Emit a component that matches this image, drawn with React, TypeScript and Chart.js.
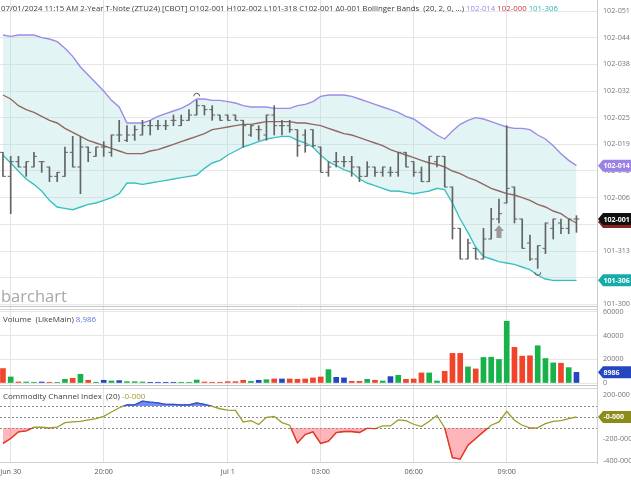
import React, { useEffect, useRef } from "react";
import { Chart, registerables } from "chart.js";

Chart.register(...registerables);

const FONT = '"Open Sans", "Noto Sans", sans-serif';

// ---- data (15-minute bars, 2-Year T-Note ZTU24) ----
const openP = [102.054, 102.036, 102.047, 102.043, 102.043, 102.047, 102.043, 102.036, 102.036, 102.054,
  102.043, 102.058, 102.051, 102.058, 102.054, 102.067, 102.063, 102.067, 102.067, 102.074,
  102.074, 102.074, 102.078, 102.074, 102.078, 102.082, 102.089, 102.086, 102.082, 102.082,
  102.082, 102.078, 102.067, 102.071, 102.067, 102.082, 102.074, 102.074, 102.071, 102.067,
  102.071, 102.058, 102.039, 102.047, 102.047, 102.047, 102.043, 102.036, 102.043, 102.039,
  102.039, 102.039, 102.054, 102.047, 102.039, 102.032, 102.047, 102.051, 102.028, 101.997,
  101.974, 101.982, 101.974, 101.989, 102.004, 102.016, 102.028, 102.004, 101.986, 101.974,
  101.982, 101.997, 102.001, 101.997, 102.004];
const highP = [102.054, 102.051, 102.051, 102.047, 102.054, 102.047, 102.043, 102.039, 102.058, 102.066,
  102.066, 102.058, 102.058, 102.062, 102.067, 102.078, 102.074, 102.074, 102.078, 102.078,
  102.078, 102.078, 102.082, 102.082, 102.086, 102.093, 102.089, 102.089, 102.082, 102.082,
  102.082, 102.078, 102.074, 102.074, 102.082, 102.089, 102.078, 102.078, 102.071, 102.071,
  102.071, 102.058, 102.047, 102.054, 102.051, 102.051, 102.043, 102.047, 102.043, 102.043,
  102.043, 102.054, 102.054, 102.047, 102.043, 102.051, 102.051, 102.051, 102.028, 101.997,
  101.989, 101.982, 101.997, 102.012, 102.019, 102.074, 102.028, 102.004, 101.992, 101.984,
  102.001, 102.004, 102.004, 102.004, 102.0065];
const lowP = [102.036, 102.008, 102.043, 102.036, 102.043, 102.039, 102.032, 102.032, 102.036, 102.043,
  102.023, 102.047, 102.051, 102.051, 102.051, 102.062, 102.062, 102.063, 102.067, 102.067,
  102.071, 102.071, 102.074, 102.074, 102.078, 102.082, 102.082, 102.078, 102.078, 102.078,
  102.078, 102.058, 102.066, 102.063, 102.063, 102.067, 102.067, 102.069, 102.051, 102.054,
  102.058, 102.039, 102.036, 102.043, 102.043, 102.036, 102.032, 102.036, 102.036, 102.036,
  102.036, 102.036, 102.043, 102.036, 102.032, 102.032, 102.043, 102.028, 101.989, 101.974,
  101.974, 101.974, 101.974, 101.989, 102.001, 102.016, 102.001, 101.982, 101.973, 101.967,
  101.978, 101.989, 101.993, 101.993, 101.994];
const closeP = [102.036, 102.047, 102.043, 102.047, 102.051, 102.047, 102.036, 102.039, 102.054, 102.043,
  102.058, 102.054, 102.058, 102.058, 102.067, 102.067, 102.067, 102.071, 102.074, 102.074,
  102.074, 102.074, 102.078, 102.078, 102.082, 102.089, 102.086, 102.082, 102.078, 102.078,
  102.078, 102.074, 102.074, 102.071, 102.082, 102.074, 102.074, 102.071, 102.059, 102.059,
  102.059, 102.039, 102.043, 102.047, 102.047, 102.043, 102.036, 102.043, 102.039, 102.043,
  102.039, 102.054, 102.043, 102.039, 102.032, 102.051, 102.051, 102.028, 101.997, 101.974,
  101.986, 101.974, 101.989, 102.004, 102.008, 102.027, 102.004, 101.982, 101.974, 101.984,
  102.001, 102.004, 101.997, 102.004, 102.004];

const bbUpper = [102.142, 102.141, 102.142, 102.142, 102.142, 102.140, 102.139, 102.137, 102.132, 102.126,
  102.118, 102.112, 102.106, 102.100, 102.093, 102.088, 102.076, 102.076, 102.076, 102.078,
  102.081, 102.083, 102.085, 102.087, 102.090, 102.094, 102.094, 102.093, 102.093, 102.092,
  102.091, 102.089, 102.088, 102.088, 102.088, 102.087, 102.087, 102.087, 102.089, 102.090,
  102.092, 102.096, 102.097, 102.097, 102.097, 102.096, 102.094, 102.092, 102.090, 102.088,
  102.086, 102.084, 102.081, 102.079, 102.075, 102.071, 102.067, 102.064, 102.070, 102.075,
  102.078, 102.080, 102.079, 102.077, 102.075, 102.073, 102.072, 102.072, 102.071, 102.067,
  102.064, 102.059, 102.053, 102.048, 102.044];
const bbMiddle = [102.097, 102.094, 102.089, 102.086, 102.084, 102.081, 102.078, 102.076, 102.072, 102.069,
  102.066, 102.063, 102.061, 102.059, 102.057, 102.055, 102.053, 102.053, 102.053, 102.055,
  102.056, 102.058, 102.060, 102.062, 102.064, 102.066, 102.068, 102.071, 102.072, 102.073,
  102.074, 102.075, 102.075, 102.076, 102.077, 102.077, 102.077, 102.077, 102.076, 102.076,
  102.075, 102.074, 102.072, 102.070, 102.068, 102.067, 102.065, 102.063, 102.061, 102.059,
  102.056, 102.054, 102.052, 102.050, 102.048, 102.046, 102.045, 102.043, 102.040, 102.038,
  102.035, 102.033, 102.030, 102.027, 102.025, 102.023, 102.022, 102.020, 102.018, 102.015,
  102.013, 102.010, 102.008, 102.004, 102.001];
const bbLower = [102.052, 102.046, 102.040, 102.034, 102.030, 102.025, 102.018, 102.013, 102.012, 102.011,
  102.013, 102.015, 102.016, 102.018, 102.020, 102.023, 102.031, 102.031, 102.030, 102.031,
  102.032, 102.033, 102.034, 102.035, 102.036, 102.037, 102.042, 102.046, 102.048, 102.052,
  102.055, 102.058, 102.060, 102.062, 102.064, 102.065, 102.066, 102.066, 102.063, 102.061,
  102.058, 102.052, 102.047, 102.044, 102.041, 102.039, 102.034, 102.031, 102.029, 102.027,
  102.025, 102.025, 102.024, 102.023, 102.024, 102.025, 102.027, 102.026, 102.016, 102.004,
  101.994, 101.983, 101.976, 101.974, 101.972, 101.971, 101.970, 101.968, 101.966, 101.962,
  101.959, 101.958, 101.958, 101.958, 101.958];

const volume = [12200, 5100, 850, 850, 600, 850, 600, 300, 3100, 4000,
  7400, 2300, 600, 2300, 1700, 2000, 1100, 1100, 850, 600,
  600, 600, 600, 600, 600, 2500, 850, 600, 600, 1100,
  1100, 2300, 1400, 2300, 2800, 3400, 3400, 3400, 3100, 3400,
  4300, 5100, 11300, 4800, 4300, 1400, 1400, 3100, 2300, 1700,
  5400, 6500, 3100, 3400, 8500, 8500, 1700, 9900, 25000, 25000,
  13600, 11900, 21600, 21800, 19900, 52200, 30100, 22700, 23000, 31500,
  20700, 17000, 16700, 13000, 8986];

const cci = [-240, -195, -135, -126, -93, -93, -99, -93, -51, -45,
  -39, -27, -15, 6, 45, 84, 111, 111, 144, 135,
  129, 114, 114, 111, 111, 129, 114, 96, 75, 63,
  60, -45, -33, -69, -3, 6, -51, -75, -235, -159,
  -135, -240, -220, -141, -132, -132, -141, -102, -105, -81,
  -81, -27, -33, -66, -87, -39, 15, -99, -370, -382,
  -256, -195, -135, -75, -45, 51, -30, -75, -99, -96,
  -60, -39, -33, -15, 0];

const timeTickIdx = [1, 13, 29, 41, 53, 65];
const timeTickLabels = ["Jun 30", "20:00", "Jul 1", "03:00", "06:00", "09:00"];
const priceTicks = [101.94, 101.96, 101.98, 102.0, 102.02, 102.04, 102.06, 102.08, 102.1, 102.12, 102.14, 102.16];
const volTicks = [0, 20000, 40000, 60000];
const cciTicks = [-400, -200, 0, 200];
const cciLevels = [100, 0, -100];
const highMarkIdx = 25;
const lowMarkIdx = 69;
const arrowIdx = 64;

const X_MIN = -0.381;
const X_MAX = 76.65;
const AXIS_W = 34;

const GREEN = "#17b24a";
const RED = "#f2432b";
const BLUE = "#2447c0";

function fmt32(p: number): string {
  const neg = p < 0;
  const t = Math.floor(Math.abs(p) * 320 + 1e-6);
  const whole = Math.floor(t / 320);
  const rem = t - whole * 320;
  const s32 = Math.floor(rem / 10);
  const d = rem % 10;
  return `${neg ? "-" : ""}${whole}-${String(s32).padStart(2, "0")}${d}`;
}

function xScale(showLabels: boolean): any {
  return {
    type: "linear",
    min: X_MIN,
    max: X_MAX,
    offset: false,
    position: "bottom",
    afterBuildTicks: (axis: any) => {
      axis.ticks = timeTickIdx.map((v) => ({ value: v }));
    },
    afterFit: (axis: any) => {
      axis.height = showLabels ? 17 : 0;
      axis.paddingLeft = 0;
      axis.paddingRight = 0;
    },
    grid: { color: "#e3e3e3", drawTicks: false, offset: false },
    border: { display: false },
    ticks: {
      display: showLabels,
      padding: 5,
      color: "#555",
      font: { size: 7.2, family: FONT },
      maxRotation: 0,
      autoSkip: false,
      callback: (_v: any, i: number) => timeTickLabels[i] ?? "",
    },
  };
}

function yScale(min: number, max: number, ticks: number[], fmt: (v: number) => string, gridOn: boolean): any {
  return {
    type: "linear",
    position: "right",
    min,
    max,
    afterBuildTicks: (axis: any) => {
      axis.ticks = ticks.map((v) => ({ value: v }));
    },
    afterFit: (axis: any) => {
      axis.width = AXIS_W;
      axis.paddingTop = 0;
      axis.paddingBottom = 0;
    },
    grid: { display: gridOn, color: "#e6e6e6", drawTicks: false },
    border: { display: true, color: "#cdcdcd" },
    ticks: {
      padding: 6,
      color: "#777",
      font: { size: 7.2, family: FONT },
      callback: (v: any) => fmt(Number(v)),
    },
  };
}

function drawTag(ctx: CanvasRenderingContext2D, y: number, text: string, bg: string, left: number) {
  const h = 12;
  const tip = 5;
  ctx.save();
  ctx.fillStyle = bg;
  ctx.beginPath();
  ctx.moveTo(left, y);
  ctx.lineTo(left + tip, y - h / 2);
  ctx.lineTo(631, y - h / 2);
  ctx.lineTo(631, y + h / 2);
  ctx.lineTo(left + tip, y + h / 2);
  ctx.closePath();
  ctx.fill();
  if (text) {
    ctx.fillStyle = "#fff";
    ctx.font = `bold 7px ${FONT}`;
    ctx.textBaseline = "middle";
    ctx.textAlign = "left";
    ctx.fillText(text, left + tip + 0.5, y + 0.5);
  }
  ctx.restore();
}

function hLine(ctx: CanvasRenderingContext2D, y: number, x0: number, x1: number, color: string) {
  ctx.save();
  ctx.strokeStyle = color;
  ctx.lineWidth = 1;
  ctx.beginPath();
  ctx.moveTo(x0, y);
  ctx.lineTo(x1, y);
  ctx.stroke();
  ctx.restore();
}

const baseOptions = {
  responsive: false,
  animation: false,
  devicePixelRatio: 1,
  layout: { padding: 0, autoPadding: false },
  events: [],
  plugins: { legend: { display: false }, tooltip: { enabled: false } },
};

export default function App() {
  const priceRef = useRef<HTMLCanvasElement>(null);
  const volRef = useRef<HTMLCanvasElement>(null);
  const cciRef = useRef<HTMLCanvasElement>(null);

  useEffect(() => {
    const charts: any[] = [];
    const idx = closeP.map((_, i) => i);
    const last = idx.length - 1;

    // ---------- price panel ----------
    const pricePlugin = {
      id: "priceDecor",
      afterDatasetsDraw(chart: any) {
        const { ctx } = chart;
        const xs = chart.scales.x;
        const ys = chart.scales.y;
        ctx.save();
        ctx.strokeStyle = "#555";
        ctx.lineWidth = 1;
        let x = xs.getPixelForValue(highMarkIdx);
        let y = ys.getPixelForValue(highP[highMarkIdx]);
        ctx.beginPath();
        ctx.arc(x, y - 4, 3, Math.PI, 2 * Math.PI);
        ctx.stroke();
        x = xs.getPixelForValue(lowMarkIdx);
        y = ys.getPixelForValue(lowP[lowMarkIdx]);
        ctx.beginPath();
        ctx.arc(x, y + 4, 3, 0, Math.PI);
        ctx.stroke();
        x = xs.getPixelForValue(arrowIdx);
        y = ys.getPixelForValue(lowP[arrowIdx]) + 2;
        ctx.fillStyle = "#9a9a9a";
        ctx.beginPath();
        ctx.moveTo(x, y);
        ctx.lineTo(x + 5, y + 6);
        ctx.lineTo(x + 2.5, y + 6);
        ctx.lineTo(x + 2.5, y + 13);
        ctx.lineTo(x - 2.5, y + 13);
        ctx.lineTo(x - 2.5, y + 6);
        ctx.lineTo(x - 5, y + 6);
        ctx.closePath();
        ctx.fill();
        ctx.restore();
      },
      afterDraw(chart: any) {
        const { ctx, chartArea } = chart;
        const ys = chart.scales.y;
        hLine(ctx, 306.5, 0, chartArea.right, "#c4c4c4");
        const left = chartArea.right + 1;
        const yClose = ys.getPixelForValue(closeP[last]);
        const yMid = ys.getPixelForValue(bbMiddle[last]);
        drawTag(ctx, ys.getPixelForValue(bbUpper[last]), fmt32(bbUpper[last]), "#9b82e4", left);
        // middle-band tag sits just beneath the last-price tag
        drawTag(ctx, Math.min(yMid, yClose + 3), "", "#8a2320", left);
        drawTag(ctx, yClose, fmt32(closeP[last]), "#111111", left);
        drawTag(ctx, ys.getPixelForValue(bbLower[last]), fmt32(bbLower[last]), "#16abab", left);
      },
    };

    const barColor = "#636363";
    charts.push(
      new Chart(priceRef.current as HTMLCanvasElement, {
        type: "line",
        data: {
          datasets: [
            {
              type: "line",
              data: idx.map((i) => ({ x: i, y: bbUpper[i] })),
              borderColor: "#9c8be6",
              borderWidth: 1.4,
              pointRadius: 0,
              fill: { target: 2 },
              backgroundColor: "rgba(165,222,222,0.32)",
              order: 2,
            },
            {
              type: "line",
              data: idx.map((i) => ({ x: i, y: bbMiddle[i] })),
              borderColor: "#8b2f2a",
              borderWidth: 1.4,
              pointRadius: 0,
              fill: false,
              order: 2,
            },
            {
              type: "line",
              data: idx.map((i) => ({ x: i, y: bbLower[i] })),
              borderColor: "#26bcbc",
              borderWidth: 1.4,
              pointRadius: 0,
              fill: false,
              order: 2,
            },
            {
              type: "bar",
              data: idx.map((i) => ({ x: i, y: [lowP[i], highP[i]] })),
              backgroundColor: barColor,
              barThickness: 1,
              order: 1,
            },
            {
              type: "line",
              showLine: false,
              data: idx.map((i) => ({ x: i, y: openP[i] })),
              pointStyle: "dash",
              pointRotation: 180,
              pointRadius: 3,
              pointBorderWidth: 1,
              pointBorderColor: barColor,
              order: 1,
            },
            {
              type: "line",
              showLine: false,
              data: idx.map((i) => ({ x: i, y: closeP[i] })),
              pointStyle: "dash",
              pointRotation: 0,
              pointRadius: 3,
              pointBorderWidth: 1,
              pointBorderColor: barColor,
              order: 1,
            },
          ] as any,
        },
        options: {
          ...baseOptions,
          scales: {
            x: xScale(false),
            y: yScale(101.93725, 102.16825, priceTicks, fmt32, true),
          },
        } as any,
        plugins: [pricePlugin],
      })
    );

    // ---------- volume panel ----------
    const volColors = idx.map((i) => (closeP[i] > openP[i] ? GREEN : closeP[i] < openP[i] ? RED : BLUE));
    const volPlugin = {
      id: "volDecor",
      afterDraw(chart: any) {
        const { ctx, chartArea } = chart;
        const ys = chart.scales.y;
        hLine(ctx, 1.5, 0, chartArea.right, "#d6d6d6");
        hLine(ctx, 77.5, 0, chartArea.right, "#c4c4c4");
        drawTag(ctx, ys.getPixelForValue(volume[last]), String(volume[last]), BLUE, chartArea.right + 1);
      },
    };
    charts.push(
      new Chart(volRef.current as HTMLCanvasElement, {
        type: "bar",
        data: {
          datasets: [
            {
              data: idx.map((i) => ({ x: i, y: volume[i] })),
              backgroundColor: volColors,
              barThickness: 5,
            },
          ],
        },
        options: {
          ...baseOptions,
          scales: {
            x: xScale(false),
            y: yScale(-3380, 63380, volTicks, (v) => String(v), true),
          },
        } as any,
        plugins: [volPlugin],
      })
    );

    // ---------- CCI panel ----------
    const cciPlugin = {
      id: "cciDecor",
      beforeDatasetsDraw(chart: any) {
        const { ctx, chartArea } = chart;
        const ys = chart.scales.y;
        ctx.save();
        ctx.strokeStyle = "#8a8a8a";
        ctx.lineWidth = 1;
        ctx.setLineDash([2, 2]);
        cciLevels.forEach((v) => {
          const y = Math.round(ys.getPixelForValue(v)) + 0.5;
          ctx.beginPath();
          ctx.moveTo(chartArea.left, y);
          ctx.lineTo(chartArea.right, y);
          ctx.stroke();
        });
        ctx.restore();
      },
      beforeDatasetDraw(chart: any, args: any) {
        const ds = chart.data.datasets[args.index];
        if (!ds.clipMode) return;
        const { ctx, chartArea } = chart;
        const ys = chart.scales.y;
        ctx.save();
        ctx.beginPath();
        if (ds.clipMode === "above") {
          const yp = ys.getPixelForValue(100);
          ctx.rect(chartArea.left, chartArea.top, chartArea.right - chartArea.left, yp - chartArea.top);
        } else {
          const yp = ys.getPixelForValue(-100);
          ctx.rect(chartArea.left, yp, chartArea.right - chartArea.left, chartArea.bottom - yp);
        }
        ctx.clip();
      },
      afterDatasetDraw(chart: any, args: any) {
        const ds = chart.data.datasets[args.index];
        if (!ds.clipMode) return;
        chart.ctx.restore();
      },
      afterDraw(chart: any) {
        const { ctx, chartArea } = chart;
        const ys = chart.scales.y;
        hLine(ctx, 1.5, 0, chartArea.right, "#d6d6d6");
        hLine(ctx, chartArea.bottom - 0.5, 0, chartArea.right, "#d0d0d0");
        const v = cci[last];
        drawTag(ctx, ys.getPixelForValue(v), v === 0 ? "-0-000" : `${v}-000`, "#8c8c1c", chartArea.right + 1);
      },
    };
    const cciPts = idx.map((i) => ({ x: i, y: cci[i] }));
    charts.push(
      new Chart(cciRef.current as HTMLCanvasElement, {
        type: "line",
        data: {
          datasets: [
            {
              data: cciPts,
              borderColor: "#2f4fe6",
              borderWidth: 1.3,
              pointRadius: 0,
              clipMode: "above",
              fill: { target: { value: 100 }, above: "rgba(70,100,240,0.75)", below: "rgba(0,0,0,0)" },
            },
            {
              data: cciPts,
              borderColor: "#ee3030",
              borderWidth: 1.3,
              pointRadius: 0,
              clipMode: "below",
              fill: { target: { value: -100 }, above: "rgba(0,0,0,0)", below: "rgba(255,110,120,0.5)" },
            },
            {
              data: cciPts,
              borderColor: "#9c9c2a",
              borderWidth: 1.3,
              pointRadius: 0,
              fill: false,
            },
          ] as any,
        },
        options: {
          ...baseOptions,
          scales: {
            x: xScale(true),
            y: yScale(-418.2, 272.7, cciTicks, (v) => (v === 0 ? "-0-000" : `${v}-000`), false),
          },
        } as any,
        plugins: [cciPlugin],
      })
    );

    return () => charts.forEach((c) => c.destroy());
  }, []);

  const n = closeP.length - 1;
  const txt: React.CSSProperties = {
    position: "absolute",
    whiteSpace: "nowrap",
    fontFamily: FONT,
    color: "#3c3c3c",
    pointerEvents: "none",
  };

  return (
    <div style={{ position: "absolute", left: 0, top: 0, width: 631, height: 480, background: "#fff", overflow: "hidden" }}>
      <canvas ref={priceRef} width={631} height={308} style={{ position: "absolute", left: 0, top: 0, width: 631, height: 308 }} />
      <canvas ref={volRef} width={631} height={79} style={{ position: "absolute", left: 0, top: 308, width: 631, height: 79 }} />
      <canvas ref={cciRef} width={631} height={93} style={{ position: "absolute", left: 0, top: 387, width: 631, height: 93 }} />
      <div style={{ ...txt, left: 1, top: 2, fontSize: 7.8, lineHeight: "12px" }}>
        07/01/2024 11:15 AM 2-Year T-Note (ZTU24) [CBOT] O{fmt32(openP[n])} H{fmt32(highP[n])} L{fmt32(lowP[n])} C
        {fmt32(closeP[n])} Δ0-001 Bollinger Bands&nbsp; (20, 2, 0, ...){" "}
        <span style={{ color: "#9b88e8" }}>{fmt32(bbUpper[n])}</span>{" "}
        <span style={{ color: "#d03a3a" }}>{fmt32(bbMiddle[n])}</span>{" "}
        <span style={{ color: "#25b8b8" }}>{fmt32(bbLower[n])}</span>
      </div>
      <div style={{ ...txt, left: 1, top: 285, fontSize: 16.5, lineHeight: "22px", color: "#a8a8a8" }}>barchart</div>
      <div style={{ ...txt, left: 3, top: 313, fontSize: 8, lineHeight: "12px" }}>
        Volume&nbsp; (LikeMain) <span style={{ color: "#5a7bd0" }}>{volume[n].toLocaleString("en-US")}</span>
      </div>
      <div style={{ ...txt, left: 3, top: 390, fontSize: 8, lineHeight: "12px" }}>
        Commodity Channel Index&nbsp; (20) <span style={{ color: "#9c9c2a" }}>-0-000</span>
      </div>
    </div>
  );
}
